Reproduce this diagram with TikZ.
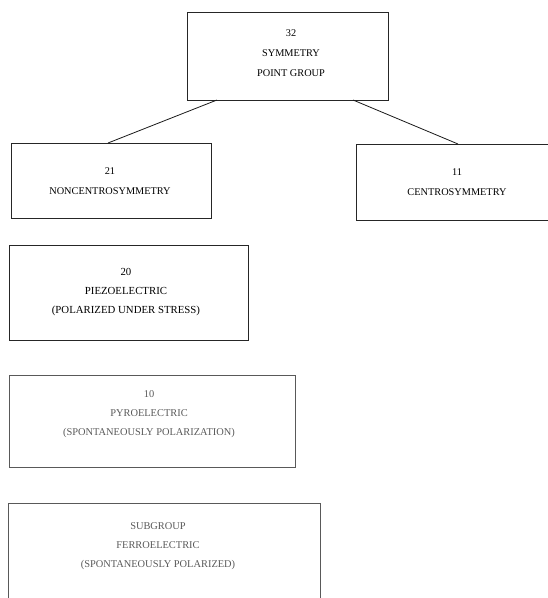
\documentclass[tikz,border=0pt]{standalone}
\usepackage{fontspec}
\setmainfont{Liberation Serif}
\usetikzlibrary{calc}
\begin{document}
\begin{tikzpicture}[x=1pt,y=-1pt,
  box/.style={draw=black!85, line width=0.8pt, inner sep=0pt, outer sep=0pt},
  faintbox/.style={draw=black!65, line width=0.8pt, inner sep=0pt, outer sep=0pt},
  txt/.style={align=center, inner sep=0pt, text=black, font=\fontsize{10.3}{20}\selectfont},
  ltxt/.style={align=center, inner sep=0pt, text=black, font=\fontsize{10.8}{19}\selectfont},
  gtxt/.style={align=center, inner sep=0pt, text=black!65, font=\fontsize{10.4}{19}\selectfont},
  link/.style={draw=black!90, line width=0.8pt}]
\useasboundingbox (0,0) rectangle (548,598);
\clip (0,0) rectangle (548,598);
% boxes
\node[box, minimum width=201pt, minimum height=88pt] (top) at (287.5,56) {};
\node[box, minimum width=200pt, minimum height=75pt] (nc) at (111,180.5) {};
\node[box, minimum width=202pt, minimum height=76pt] (cs) at (457,182) {};
\node[box, minimum width=239pt, minimum height=95pt] (pz) at (128.5,292.5) {};
\node[faintbox, minimum width=286pt, minimum height=92pt] (py) at (152,421) {};
\node[faintbox, minimum width=312pt, minimum height=120pt] (fe) at (164,563) {};
% texts
\node[txt] (ttop) at (291,53) {32\\SYMMETRY\\POINT GROUP};
\node[txt] (tnc) at (110,181.5) {21\\NONCENTROSYMMETRY};
\node[txt] (tcs) at (457,182) {11\\CENTROSYMMETRY};
\node[ltxt] (tpz) at (126,292) {20\\PIEZOELECTRIC\\(POLARIZED UNDER STRESS)};
\node[gtxt] (tpy) at (149,414) {10\\PYROELECTRIC\\(SPONTANEOUSLY POLARIZATION)};
\node[gtxt] (tfe) at (158,546) {SUBGROUP\\FERROELECTRIC\\(SPONTANEOUSLY POLARIZED)};
% connectors
\draw[link] ($(top.south west)!0.149!(top.south east)$) -- ($(nc.north west)!0.485!(nc.north east)$);
\draw[link] ($(top.south west)!0.826!(top.south east)$) -- ($(cs.north west)!0.505!(cs.north east)$);
\end{tikzpicture}
\end{document}
